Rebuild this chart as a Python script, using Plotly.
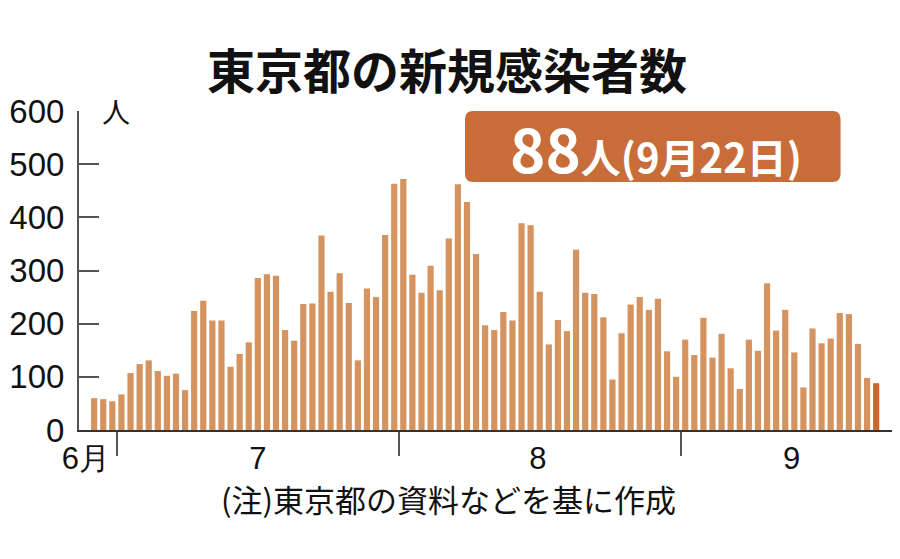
import pandas as pd
import plotly.graph_objs as go

# daily new cases in Tokyo, 2020-06-28 .. 2020-09-22
dates = pd.date_range("2020-06-28", "2020-09-22", freq="D")
cases = [60, 58, 54,
	67, 107, 124, 131, 111, 102, 106, 75, 224, 243, 206, 206, 119, 143, 165, 286,
	293, 290, 188, 168, 237, 238, 366, 260, 295, 239, 131, 266, 250, 367, 463,
	472, 292, 258, 309, 263, 360, 462, 429, 331, 197, 188, 222, 206, 389, 385,
	260, 161, 207, 186, 339, 258, 256, 212, 95, 182, 236, 250, 226, 247, 148, 100,
	170, 141, 211, 136, 181, 116, 77, 170, 149, 276, 187, 226, 146, 80, 191, 163,
	172, 220, 218, 162, 98, 88]

month_label_pos = ["2020-06-27 02:00", "2020-07-16 00:00", "2020-08-15 19:00", "2020-09-12 17:00"]
month_labels = ["6月", "7", "8", "9"]
month_edges = ["2020-06-30 12:00", "2020-07-31 12:00", "2020-08-31 12:00"]
y_ticks = [0, 100, 200, 300, 400, 500, 600]

title = "東京都の新規感染者数"
latest = "<b><span style='font-size:60px'>88</span>人(9月22日)</b>"
note = "(注)東京都の資料などを基に作成"

bar_color = "#d4935f"
last_color = "#c8682f"
colors = [bar_color] * (len(cases) - 1) + [last_color]

narrow = "Liberation Sans Narrow, Arial Narrow, Liberation Sans, Arial"
jp = "Noto Sans CJK JP"

fig = go.Figure()
fig.add_trace(go.Bar(x = dates, y = cases, marker_color = colors, marker_line_width = 0))

# page body adds ~8px offset, margins compensate for it
fig.update_layout(
	template = "none",
	width = 900, height = 559,
	margin = dict(l = 71, r = 11, t = 103, b = 137),
	paper_bgcolor = "white", plot_bgcolor = "white",
	bargap = 0.32, showlegend = False,
	font = dict(family = narrow, color = "#111"))

fig.update_xaxes(
	type = "date", automargin = False,
	range = ["2020-06-26 08:00", "2020-09-24 07:00"],
	tickmode = "array", tickvals = month_label_pos, ticktext = month_labels,
	ticks = "", tickfont = dict(size = 31, family = narrow),
	ticklabelstandoff = 0,
	showline = True, linecolor = "#333", linewidth = 2,
	showgrid = False, zeroline = False,
	minor = dict(tickmode = "array", tickvals = month_edges, ticks = "outside",
		ticklen = 24, tickwidth = 2, tickcolor = "#555", showgrid = False))

fig.update_yaxes(
	range = [0, 600], automargin = False,
	tickmode = "array", tickvals = y_ticks,
	ticks = "inside", ticklen = 20, tickwidth = 2, tickcolor = "#555",
	tickfont = dict(size = 33, family = narrow),
	ticklabelstandoff = 6,
	showline = True, linecolor = "#555", linewidth = 2,
	showgrid = False, zeroline = False)

# title
fig.add_annotation(text = "<b>" + title + "</b>", xref = "paper", yref = "paper",
	x = 0.45, y = 1.135, xanchor = "center", yanchor = "middle", showarrow = False,
	font = dict(family = jp, size = 48, color = "#111"))

# unit label
fig.add_annotation(text = "人", xref = "paper", yref = "y", x = 0.026, y = 600,
	xanchor = "left", yanchor = "middle", showarrow = False,
	font = dict(family = jp, size = 28, color = "#111"))

# highlight box
fig.add_shape(type = "path", xref = "paper", yref = "paper",
	path = "M 0.4816 1.0 Q 0.4719 1.0 0.4719 0.975 L 0.4719 0.8025 Q 0.4719 0.7775 0.4816 0.7775 "
		"L 0.9213 0.7775 Q 0.931 0.7775 0.931 0.8025 L 0.931 0.975 Q 0.931 1.0 0.9213 1.0 Z",
	fillcolor = "#c86d3a", line_width = 0, layer = "above")
fig.add_annotation(text = latest, xref = "paper", yref = "paper",
	x = 0.705, y = 0.89, xanchor = "center", yanchor = "middle", showarrow = False,
	font = dict(family = jp, size = 40, color = "white"))

# source note
fig.add_annotation(text = note, xref = "paper", yref = "paper",
	x = 0.452, y = -0.215, xanchor = "center", yanchor = "middle", showarrow = False,
	font = dict(family = jp, size = 31, color = "#111"))

fig.write_html("out.html")
